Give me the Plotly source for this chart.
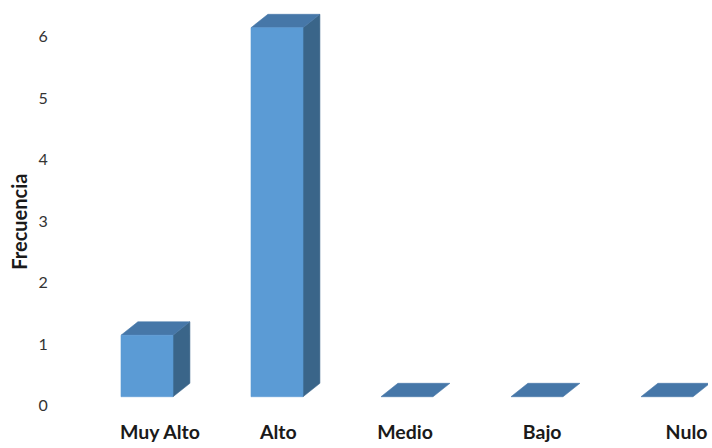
import plotly.graph_objects as go

# Data
categorias = ["Muy Alto", "Alto", "Medio", "Bajo", "Nulo"]
frecuencia = [1, 6, 0, 0, 0]
ticks_y = [0, 1, 2, 3, 4, 5, 6]

# 3D bar styling (in axis units)
ancho = 0.4          # bar width, category units
prof_x = 0.13        # depth shift to the right
prof_y = 0.218       # depth shift upwards
base = 0.143         # floor level of the bar fronts
col_frente = "#5B9BD5"
col_techo = "#4677A8"
col_lado = "#3A6589"

# label nudges following the floor's perspective
ajuste_etiqueta = [0.10, 0.01, -0.015, 0.04, 0.15]

fig = go.Figure()


def cara(xs, ys, color):
    fig.add_trace(go.Scatter(
        x=xs + [xs[0]], y=ys + [ys[0]], mode="lines", fill="toself",
        fillcolor=color, line=dict(color=color, width=0.6),
        hoverinfo="skip", showlegend=False))


for i, v in enumerate(frecuencia):
    x0, x1 = i - ancho / 2, i + ancho / 2
    y0, y1 = base, base + v
    if v > 0:
        # side face
        cara([x1, x1 + prof_x, x1 + prof_x, x1],
             [y0, y0 + prof_y, y1 + prof_y, y1], col_lado)
    # top face
    cara([x0, x1, x1 + prof_x, x0 + prof_x],
         [y1, y1, y1 + prof_y, y1 + prof_y], col_techo)
    if v > 0:
        # front face
        cara([x0, x1, x1, x0], [y0, y0, y1, y1], col_frente)

fuente = "Lato, Calibri, Carlito, sans-serif"

fig.update_layout(
    width=712, height=448,
    margin=dict(l=56, r=4, t=10, b=30),
    paper_bgcolor="white", plot_bgcolor="white",
    xaxis=dict(
        range=[-0.7, 4.3154], showgrid=False, zeroline=False, showline=False,
        automargin=False,
        tickmode="array",
        tickvals=[i + a for i, a in enumerate(ajuste_etiqueta)],
        ticktext=["<b>%s</b>" % c for c in categorias],
        ticks="", ticklen=0,
        tickfont=dict(family=fuente, size=19.5, color="#1a1a1a"),
        fixedrange=True),
    yaxis=dict(
        range=[-0.203, 6.431], showgrid=False, zeroline=False, showline=False,
        automargin=False,
        tickmode="array", tickvals=ticks_y,
        ticktext=[str(t) for t in ticks_y],
        ticks="outside", ticklen=4, tickcolor="rgba(0,0,0,0)",
        tickfont=dict(family=fuente, size=16, color="#333333"),
        fixedrange=True),
    annotations=[dict(
        text="<b>Frecuencia</b>", textangle=-90,
        xref="paper", yref="y", x=-0.0567, y=2.99,
        xanchor="center", yanchor="middle", showarrow=False,
        font=dict(family=fuente, size=20, color="#1a1a1a"))],
)

fig.write_html("out.html")
